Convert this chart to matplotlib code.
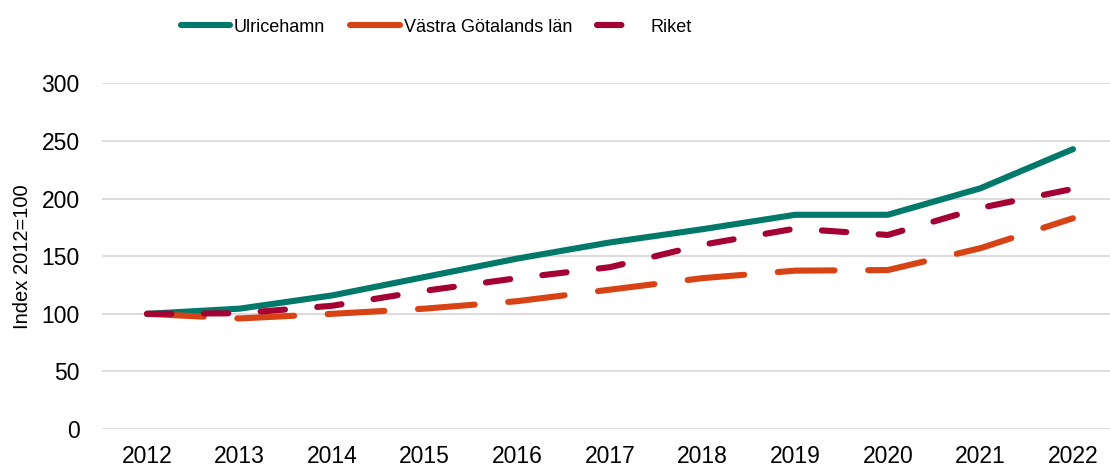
import matplotlib
matplotlib.use("Agg")
import matplotlib.pyplot as plt

# -----------------------------
# Data (index 2012=100)
# -----------------------------

years = ["2012", "2013", "2014", "2015", "2016", "2017", "2018", "2019", "2020", "2021", "2022"]

ulricehamn = [100, 104.5, 116, 132, 148, 162, 173.5, 186, 186, 209, 243]
vastra_gotaland = [100, 96, 100, 104.5, 111, 121, 131, 137.5, 138, 157, 183]
riket = [100, 100.5, 107, 120, 131, 140.5, 160, 174, 168.5, 192, 208.5]

plt.rcParams["font.family"] = ["Liberation Sans", "DejaVu Sans"]

# -----------------------------
# Plot
# -----------------------------

fig = plt.figure(figsize=(11.1, 4.68), dpi=100)
ax = fig.add_axes([102 / 1110, 39 / 468, 1 - 102 / 1110, (429 - 83.5) / 468])

x = list(range(len(years)))
lw = 4.4

ax.plot(x, ulricehamn, color="#00796B", linewidth=lw,
        solid_capstyle="round", solid_joinstyle="round", label="Ulricehamn", zorder=3)
ax.plot(x, vastra_gotaland, color="#D84315", linewidth=lw, linestyle=(0, (9.3, 5.5)),
        dash_capstyle="round", dash_joinstyle="round", label="Västra Götalands län", zorder=3)
ax.plot(x, riket, color="#A50034", linewidth=lw, linestyle=(0, (4.0, 5.3)),
        dash_capstyle="round", dash_joinstyle="round", label="Riket", zorder=4)

ax.set_xlim(-0.486, 10.4)
ax.set_ylim(0, 300)
ax.set_yticks(range(0, 301, 50))
ax.set_xticks(x)
ax.set_xticklabels(years)

ax.grid(True, axis="y", color="#D9D9D9", linewidth=1.3)
ax.set_axisbelow(True)
for s in ax.spines.values():
    s.set_visible(False)
ax.tick_params(axis="both", length=0, labelsize=16.5, colors="black")
ax.tick_params(axis="y", pad=16)
ax.tick_params(axis="x", pad=11.5)

ax.set_ylabel("Index 2012=100", fontsize=14.5)
ax.yaxis.set_label_coords(-0.069, 0.5)

fig.legend(loc="center", bbox_to_anchor=(0.393, 1 - 27 / 468), ncol=3, frameon=False,
           fontsize=13, handlelength=2.75, handletextpad=0.2, columnspacing=1.4)

plt.savefig("out.png", dpi=100)
print("Saved: out.png")
